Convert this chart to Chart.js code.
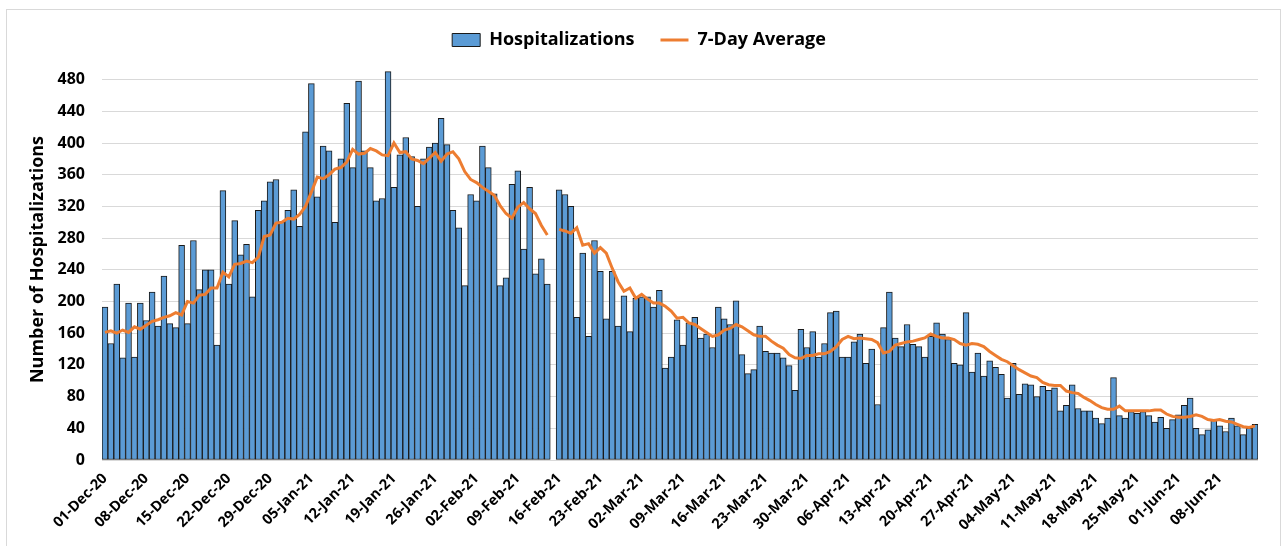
<!DOCTYPE html>
<html>
<head>
<meta charset="utf-8">
<script src="https://cdn.jsdelivr.net/npm/chart.js@4.4.1/dist/chart.umd.min.js"></script>
<style>
  html, body { margin: 0; padding: 0; background: #fff; }
  #frame { position: absolute; left: 6px; top: 9px; width: 1273px; height: 560px; border: 1px solid #d9d9d9; }
  #wrap { position: absolute; left: 0; top: 0; width: 1285px; height: 546px; }
</style>
</head>
<body>
<div id="frame"></div>
<div id="wrap"><canvas id="hospChart" width="1285" height="546"></canvas></div>
<script>
// daily counts, 01-Dec-20 .. 13-Jun-21 (15-Feb-21 missing)
const hospitalizations = [
    193, 147, 222, 129, 198, 130, 198, 176, 212, 169,
    232, 172, 167, 271, 172, 277, 215, 240, 240, 145,
    340, 222, 302, 259, 272, 206, 315, 327, 351, 354,
    300, 315, 341, 295, 414, 475, 332, 396, 390, 300,
    380, 450, 369, 478, 390, 369, 327, 330, 490, 344,
    385, 407, 383, 320, 380, 395, 400, 431, 398, 315,
    293, 220, 335, 327, 396, 369, 336, 220, 230, 348,
    365, 266, 344, 235, 254, 222, null, 341, 335, 320,
    180, 261, 156, 277, 238, 178, 238, 169, 207, 162,
    204, 206, 206, 193, 214, 116, 130, 177, 145, 173,
    180, 154, 159, 142, 193, 178, 171, 201, 133, 109,
    114, 169, 137, 135, 135, 129, 119, 88, 165, 142,
    162, 130, 147, 186, 188, 130, 130, 149, 159, 122,
    140, 70, 167, 212, 154, 143, 171, 146, 143, 130,
    156, 173, 159, 152, 122, 120, 186, 111, 135, 106,
    125, 117, 108, 78, 122, 83, 96, 95, 80, 93,
    88, 91, 62, 69, 95, 65, 62, 62, 53, 46,
    53, 104, 56, 53, 61, 59, 61, 56, 48, 54,
    40, 51, 57, 69, 78, 40, 32, 38, 51, 43,
    36, 53, 43, 32, 40, 45
];

const sevenDayAvg = [
    161, 163, 160, 164, 161, 168, 165, 170, 175, 177,
    180, 182, 186, 183, 200, 198, 208, 209, 217, 217,
    237, 231, 247, 248, 251, 249, 256, 282, 284, 299,
    300, 305, 304, 310, 320, 338, 357, 355, 360, 367,
    369, 376, 392, 386, 387, 393, 390, 385, 384, 400,
    388, 389, 380, 378, 374, 381, 388, 377, 386, 389,
    380, 364, 354, 350, 344, 339, 334, 321, 311, 305,
    319, 325, 317, 311, 296, 284, null, 291, 289, 286,
    293, 271, 273, 261, 268, 261, 242, 225, 213, 217,
    204, 209, 203, 198, 198, 194, 188, 179, 180, 173,
    171, 166, 161, 156, 158, 164, 166, 171, 168, 163,
    158, 156, 156, 150, 145, 141, 133, 129, 128, 132,
    132, 134, 134, 137, 143, 152, 156, 153, 154, 153,
    152, 148, 135, 137, 145, 147, 149, 150, 152, 154,
    159, 156, 154, 154, 152, 147, 145, 147, 146, 143,
    137, 132, 127, 124, 119, 114, 110, 106, 104, 98,
    95, 94, 94, 87, 85, 84, 79, 75, 70, 66,
    64, 64, 68, 62, 62, 62, 62, 62, 63, 63,
    58, 55, 54, 54, 55, 57, 55, 51, 50, 51,
    49, 48, 45, 42, 41, 43
];

const tickLabels = [
    '01-Dec-20', '08-Dec-20', '15-Dec-20', '22-Dec-20', '29-Dec-20',
    '05-Jan-21', '12-Jan-21', '19-Jan-21', '26-Jan-21',
    '02-Feb-21', '09-Feb-21', '16-Feb-21', '23-Feb-21',
    '02-Mar-21', '09-Mar-21', '16-Mar-21', '23-Mar-21', '30-Mar-21',
    '06-Apr-21', '13-Apr-21', '20-Apr-21', '27-Apr-21',
    '04-May-21', '11-May-21', '18-May-21', '25-May-21',
    '01-Jun-21', '08-Jun-21'
];

// one category per day
const monthNames = ['Jan', 'Feb', 'Mar', 'Apr', 'May', 'Jun', 'Jul', 'Aug', 'Sep', 'Oct', 'Nov', 'Dec'];
const days = [];
for (let i = 0; i < hospitalizations.length; i++) {
    const d = new Date(Date.UTC(2020, 11, 1 + i));
    days.push(String(d.getUTCDate()).padStart(2, '0') + '-' + monthNames[d.getUTCMonth()] + '-' + String(d.getUTCFullYear()).slice(2));
}

const fontFamily = '"Open Sans", Lato, sans-serif';

new Chart(document.getElementById('hospChart'), {
    data: {
        labels: days,
        datasets: [
            {
                type: 'line',
                label: '7-Day Average',
                data: sevenDayAvg,
                borderColor: '#ED7D31',
                backgroundColor: '#ED7D31',
                borderWidth: 3,
                pointRadius: 0,
                tension: 0,
                spanGaps: false,
                pointStyle: 'line',
                order: 0
            },
            {
                type: 'bar',
                label: 'Hospitalizations',
                data: hospitalizations,
                backgroundColor: '#5B9BD5',
                borderColor: '#1a1a1a',
                borderWidth: 1,
                borderSkipped: false,
                barPercentage: 1,
                categoryPercentage: 1,
                pointStyle: 'rect',
                order: 1
            }
        ]
    },
    options: {
        responsive: false,
        animation: false,
        devicePixelRatio: 1,
        layout: {
            padding: { left: 20, right: 27, top: 5, bottom: 0 }
        },
        plugins: {
            legend: {
                display: true,
                position: 'top',
                reverse: true,
                labels: {
                    usePointStyle: true,
                    pointStyleWidth: 28,
                    boxHeight: 13,
                    padding: 26,
                    color: '#000',
                    font: { family: fontFamily, size: 18, weight: 'bold' }
                }
            },
            tooltip: { enabled: false }
        },
        scales: {
            x: {
                grid: { display: false },
                border: { display: false },
                ticks: {
                    autoSkip: false,
                    maxRotation: 45,
                    minRotation: 45,
                    padding: 2,
                    color: '#000',
                    font: { family: fontFamily, size: 14.5, weight: 'bold' },
                    callback: function (val, i) {
                        return i % 7 === 0 ? tickLabels[i / 7] : null;
                    }
                },
                afterFit: function (scale) { scale.height = 86; }
            },
            y: {
                min: 0,
                max: 506,
                grid: { color: '#d9d9d9', drawTicks: false },
                border: { display: false },
                ticks: {
                    stepSize: 40,
                    includeBounds: false,
                    padding: 17,
                    color: '#000',
                    font: { family: fontFamily, size: 16, weight: 'bold' }
                },
                title: {
                    display: true,
                    text: 'Number of Hospitalizations',
                    color: '#000',
                    padding: { top: 7, bottom: 0 },
                    font: { family: fontFamily, size: 18, weight: 'bold' }
                },
                afterFit: function (scale) { scale.width = 82; }
            }
        }
    }
});
</script>
</body>
</html>
